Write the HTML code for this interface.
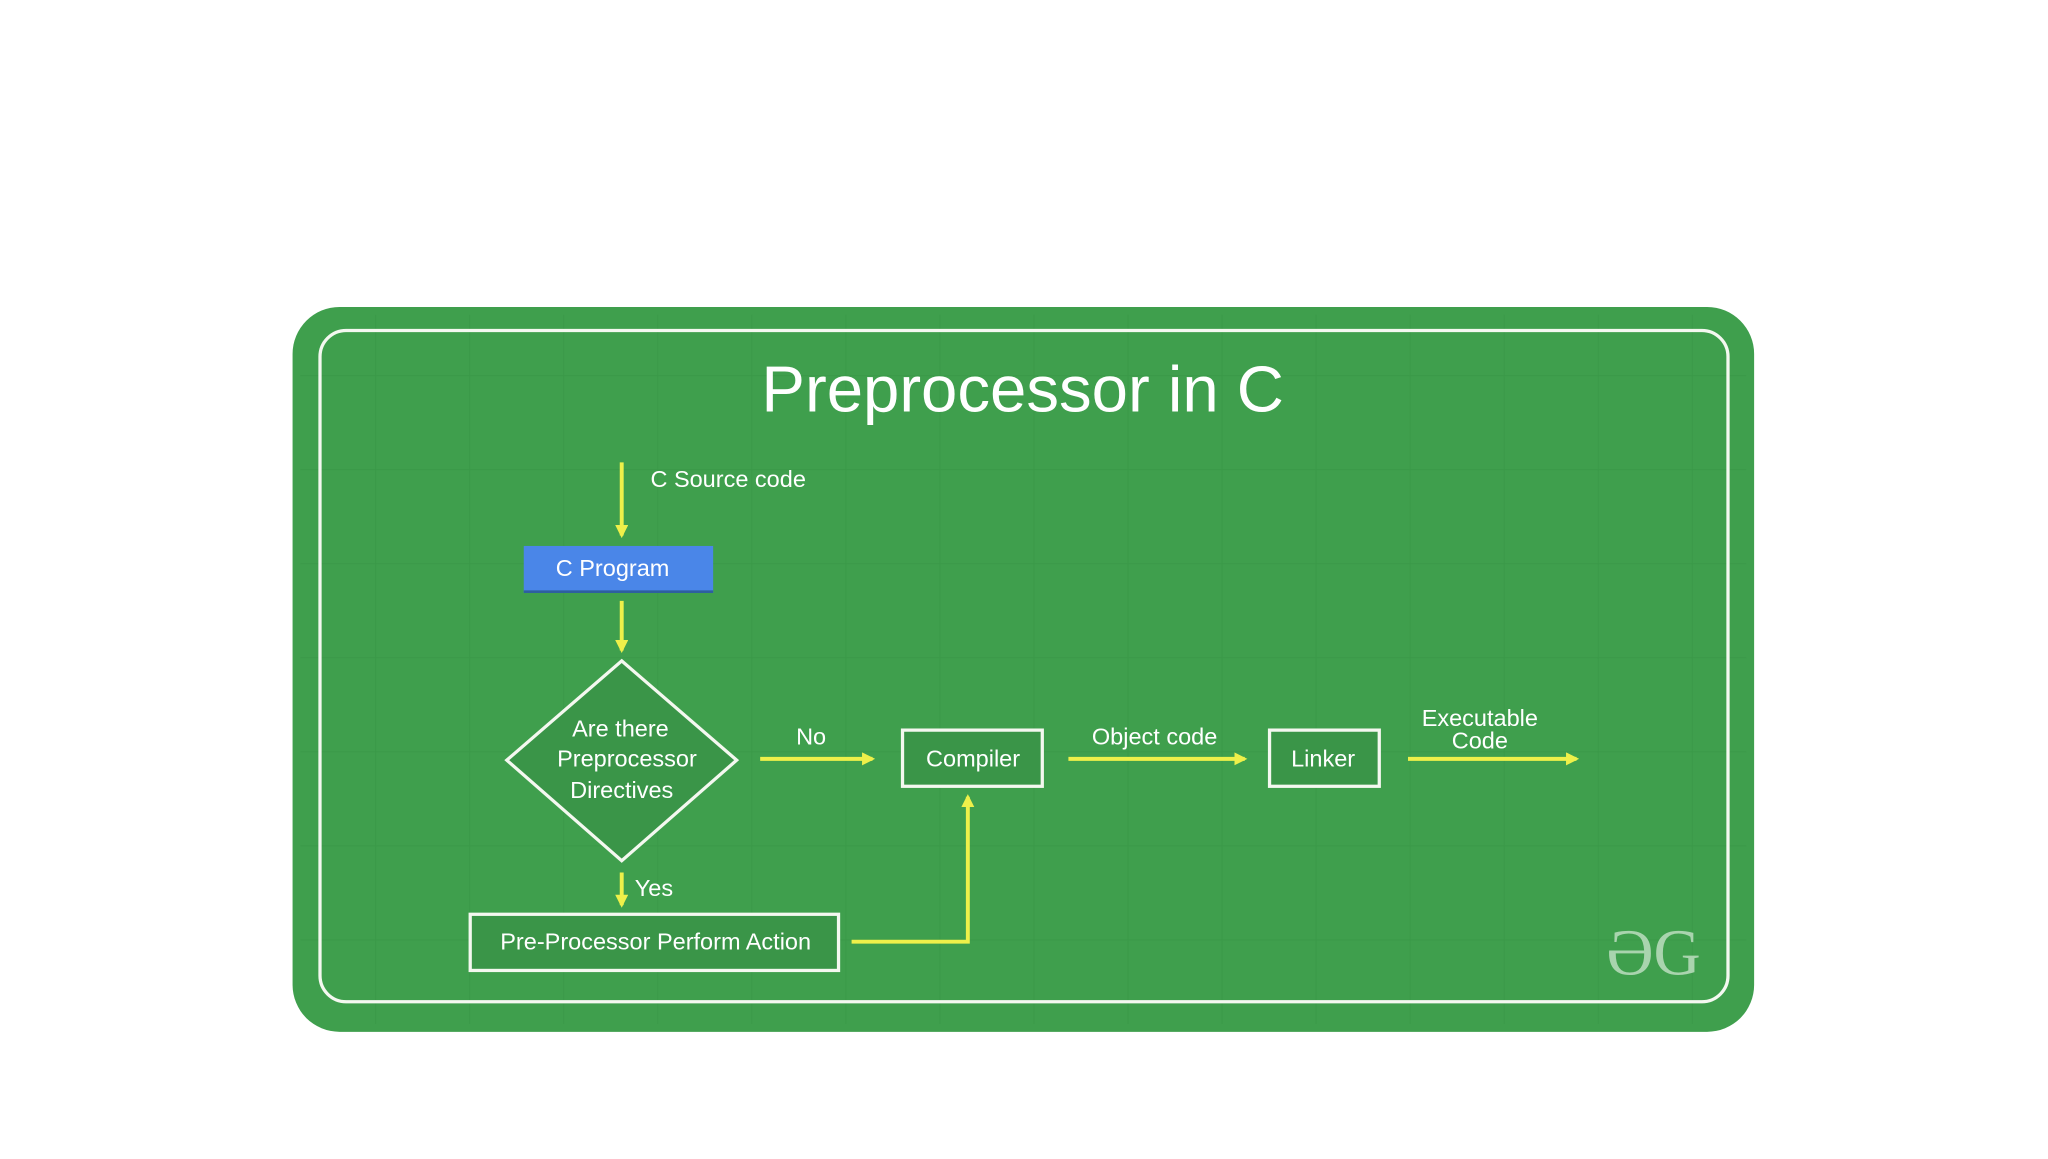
<!DOCTYPE html>
<html><head><meta charset="utf-8"><style>
html,body{margin:0;padding:0;background:#fff;width:2048px;height:1152px;overflow:hidden}
#w{position:absolute;left:0;top:0;width:1568px;height:882px;transform:scale(1.306122);transform-origin:0 0}
text{font-family:"Liberation Sans",sans-serif;fill:#fff}
</style></head><body><div id="w">
<svg width="1568" height="882" viewBox="0 0 1568 882">
<defs>
<marker id="a" markerWidth="10" markerHeight="10" refX="8" refY="5" orient="auto" markerUnits="userSpaceOnUse"><path d="M0,0 L10,5 L0,10 z" fill="#eef04a"/></marker>
<pattern id="g" width="72" height="72" patternUnits="userSpaceOnUse"><path d="M72 0V72M0 72H72" stroke="#379545" stroke-width="1.5" fill="none"/></pattern>
</defs>
<rect x="224" y="235" width="1119" height="555" rx="36" fill="#3f9f4d"/>
<rect x="230" y="241" width="1107" height="543" rx="32" fill="url(#g)" opacity="0.6"/>
<rect x="245" y="253" width="1078" height="514" rx="20" fill="none" stroke="#f4f8f0" stroke-width="2.5"/>
<text x="783" y="315" font-size="50" text-anchor="middle">Preprocessor in C</text>
<g stroke="#eef04a" stroke-width="3" fill="none" marker-end="url(#a)">
<line x1="476" y1="354" x2="476" y2="410"/>
<line x1="476" y1="460" x2="476" y2="498"/>
<line x1="582" y1="581" x2="668" y2="581"/>
<line x1="818" y1="581" x2="953" y2="581"/>
<line x1="1078" y1="581" x2="1207" y2="581"/>
<line x1="476" y1="668" x2="476" y2="693"/>
<polyline points="652,721 741,721 741,610"/>
</g>
<text x="498" y="373" font-size="18">C Source code</text>
<rect x="401" y="418" width="145" height="36" fill="#4a86e8"/>
<rect x="401" y="452" width="145" height="2" fill="#2e5f9e"/>
<text x="469" y="441" font-size="18" text-anchor="middle">C Program</text>
<polygon points="476,506 564,582 476,659 388,582" fill="#3a9548" stroke="#f4f8f0" stroke-width="2.5"/>
<text x="475" y="564" font-size="18" text-anchor="middle">Are there</text>
<text x="480" y="587" font-size="18" text-anchor="middle">Preprocessor</text>
<text x="476" y="611" font-size="18" text-anchor="middle">Directives</text>
<text x="621" y="570" font-size="18" text-anchor="middle">No</text>
<rect x="691" y="559" width="107" height="43" fill="#3a9548" stroke="#f4f8f0" stroke-width="2.5"/>
<text x="745" y="587" font-size="18" text-anchor="middle">Compiler</text>
<text x="884" y="570" font-size="18" text-anchor="middle">Object code</text>
<rect x="972" y="559" width="84" height="43" fill="#3a9548" stroke="#f4f8f0" stroke-width="2.5"/>
<text x="1013" y="587" font-size="18" text-anchor="middle">Linker</text>
<text x="1133" y="556" font-size="18" text-anchor="middle">Executable</text>
<text x="1133" y="573" font-size="18" text-anchor="middle">Code</text>
<text x="486" y="686" font-size="18">Yes</text>
<rect x="360" y="700" width="282" height="43" fill="#3a9548" stroke="#f4f8f0" stroke-width="2.5"/>
<text x="502" y="727" font-size="18" text-anchor="middle">Pre-Processor Perform Action</text>
<text x="1266" y="746" font-size="50" text-anchor="middle" style="fill:#a9d4ae;font-family:'Liberation Serif',serif">ƏG</text>
</svg></div></body></html>
